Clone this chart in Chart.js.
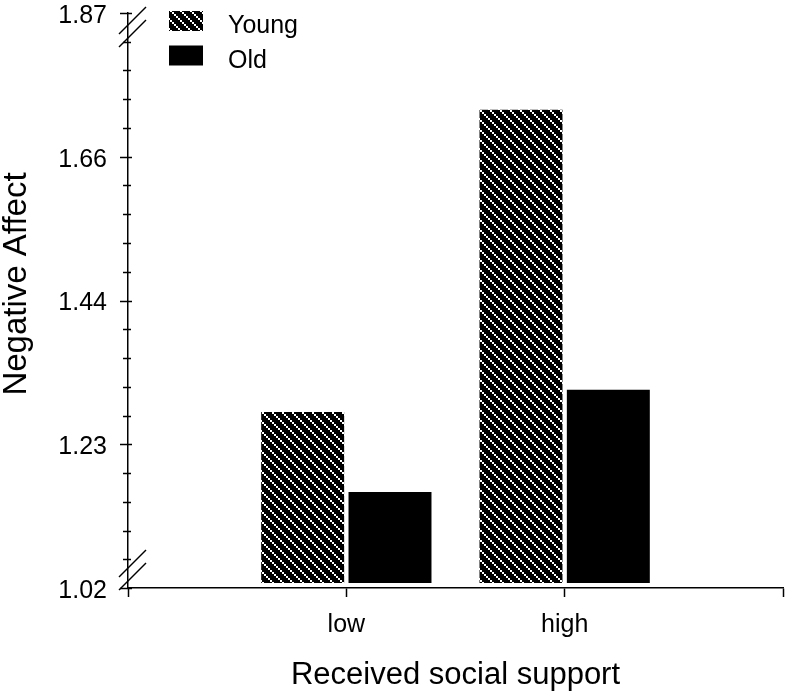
<!DOCTYPE html>
<html><head><meta charset="utf-8">
<script src="https://cdn.jsdelivr.net/npm/chart.js@4.4.1/dist/chart.umd.min.js"></script>
<style>html,body{margin:0;padding:0;background:#fff;} #wrap{width:786px;height:695px;}</style>
</head><body><div id="wrap"><canvas id="c" width="786" height="695"></canvas></div>
<script>
// ---- data ----
const categories = ['', 'low', 'high', ''];
const seriesNames = ['Young', 'Old'];
const youngValues = [null, 1.280, 1.727, null];
const oldValues = [null, 1.162, 1.313, null];
const yTickLabels = ['1.02', '1.23', '1.44', '1.66', '1.87'];
const yMin = 1.02;
const yMax = 1.87;
const barBase = 1.0274;
const minorPerMajor = 5;
const xTitle = 'Received social support';
const yTitle = 'Negative Affect';

const FAMILY = '"Liberation Sans", Arial, Helvetica, sans-serif';
Chart.defaults.font.family = FAMILY;
Chart.defaults.color = '#000';

function makeHatch() {
  const c = document.createElement('canvas');
  c.width = 10; c.height = 10;
  const g = c.getContext('2d');
  g.fillStyle = '#000'; g.fillRect(0, 0, 10, 10);
  g.fillStyle = '#fff';
  for (let k = 0; k < 10; k += 2) g.fillRect(k, k, 2, 2);
  return g.createPattern(c, 'repeat');
}
const ctx = document.getElementById('c').getContext('2d');
const hatch = makeHatch();

const decor = {
  id: 'decor',
  afterDraw(chart) {
    const g = chart.ctx;
    const ys = chart.scales.y;
    const area = chart.chartArea;
    const ax = area.left;
    g.save();
    g.strokeStyle = '#000';
    g.lineWidth = 1.5;
    // y tick marks (major & minor), crossing the axis
    ys.ticks.forEach((t, i) => {
      const py = Math.round(ys.getPixelForValue(t.value)) + 0.5;
      const major = i % minorPerMajor === 0;
      g.beginPath();
      g.moveTo(ax - (major ? 8 : 5), py);
      g.lineTo(ax + (major ? 4 : 3), py);
      g.stroke();
    });
    // axis break marks
    const breaks = [area.top + 12, area.top + 25, area.bottom - 20, area.bottom - 7];
    breaks.forEach(by => {
      g.beginPath();
      g.moveTo(ax - 9, by + 9);
      g.lineTo(ax + 18, by - 18);
      g.stroke();
    });
    // y title
    g.fillStyle = '#000';
    g.font = '33px ' + FAMILY;
    g.translate(26, 284);
    g.rotate(-Math.PI / 2);
    g.textAlign = 'center';
    g.textBaseline = 'alphabetic';
    g.fillText(yTitle, 0, 0);
    g.restore();
    // legend
    g.save();
    g.font = '25px ' + FAMILY;
    g.textAlign = 'left';
    g.textBaseline = 'alphabetic';
    chart.data.datasets.forEach((ds, i) => {
      const bx = ax + 41, by = area.top - 2 + i * 34.5;
      g.fillStyle = ds.backgroundColor;
      g.fillRect(bx, by, 34, 20);
      g.fillStyle = '#000';
      g.fillText(ds.label, ax + 100, by + 22);
    });
    g.restore();
  }
};

new Chart(ctx, {
  type: 'bar',
  data: {
    labels: categories,
    datasets: [
      { label: seriesNames[0], data: youngValues, backgroundColor: hatch, base: barBase,
        barPercentage: 0.95, categoryPercentage: 0.8, borderWidth: 0 },
      { label: seriesNames[1], data: oldValues, backgroundColor: '#000', base: barBase,
        barPercentage: 0.95, categoryPercentage: 0.8, borderWidth: 0 }
    ]
  },
  options: {
    responsive: false,
    animation: false,
    layout: { padding: { top: 13, right: 3, left: 0, bottom: 0 } },
    plugins: { legend: { display: false }, tooltip: { enabled: false } },
    scales: {
      x: {
        type: 'category',
        offset: false,
        grid: { display: true, drawOnChartArea: false, drawTicks: true, tickLength: 9,
                tickWidth: 1.5, tickColor: '#000', offset: false },
        border: { display: true, color: '#000', width: 1.5 },
        ticks: { autoSkip: false, maxRotation: 0, minRotation: 0, padding: 13,
                 font: { size: 25 }, color: '#000' },
        title: { display: true, text: xTitle, color: '#000',
                 font: { size: 31, lineHeight: 1.2 }, padding: { top: 0, bottom: 1 } },
        afterFit: s => { s.height = 107; s.paddingLeft = 0; s.paddingRight = 0; }
      },
      y: {
        min: yMin, max: yMax,
        afterBuildTicks: s => {
          const n = (yTickLabels.length - 1) * minorPerMajor;
          const step = (yMax - yMin) / n;
          s.ticks = Array.from({ length: n + 1 }, (_, k) => ({ value: yMin + k * step }));
        },
        grid: { display: false },
        border: { display: true, color: '#000', width: 1.5 },
        ticks: { autoSkip: false, padding: 13, labelOffset: 3, font: { size: 25 }, color: '#000',
                 callback: (v, i) => (i % minorPerMajor === 0 ? yTickLabels[i / minorPerMajor] : '') },
        afterFit: s => { s.width = 128; s.paddingTop = 0; s.paddingBottom = 0; }
      }
    }
  },
  plugins: [decor]
});
</script>
</body></html>
